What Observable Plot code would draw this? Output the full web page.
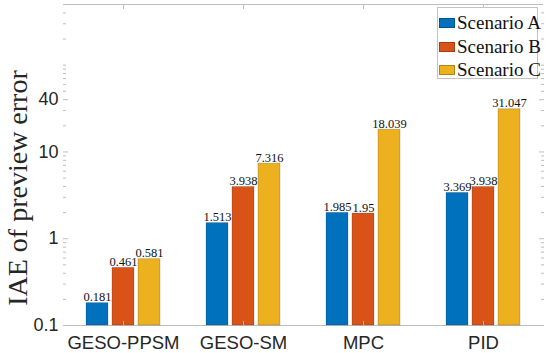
<!DOCTYPE html>
<html><head><meta charset="utf-8">
<script src="https://cdn.jsdelivr.net/npm/d3@7"></script>
<script src="https://cdn.jsdelivr.net/npm/@observablehq/plot@0.6"></script>
<style>
html,body{margin:0;padding:0;background:#fff;}
#wrap{position:relative;width:550px;height:353px;overflow:hidden;}
#ylab{position:absolute;left:18px;top:188px;transform:translate(-50%,-50%) rotate(-90deg);white-space:nowrap;
  font-family:"Liberation Serif","Times New Roman",serif;font-size:28px;color:#262626;}
#legend{position:absolute;left:437px;top:7px;width:101px;height:72px;border:1px solid #c4c4c4;background:#fff;box-sizing:border-box;
  font-family:"Liberation Serif","Times New Roman",serif;font-size:19px;color:#111;}
.item{position:absolute;left:1px;height:22px;display:flex;align-items:center;white-space:nowrap;}
.sw{width:16px;height:10px;margin-right:2px;box-sizing:border-box;border:1px solid rgba(0,0,0,0.25);}
</style></head><body><div id="wrap"></div>
<script>
const groups = ["GESO-PPSM", "GESO-SM", "MPC", "PID"];
const scenarios = ["Scenario A", "Scenario B", "Scenario C"];
const colors = ["#0072BD", "#D95319", "#EDB120"];
const valuesA = [0.181, 1.513, 1.985, 3.369];
const valuesB = [0.461, 3.938, 1.95, 3.938];
const valuesC = [0.581, 7.316, 18.039, 31.047];
const yTicks = [0.1, 1, 10, 40];
const yMinorTicks = [0.2,0.3,0.4,0.5,0.6,0.7,0.8,0.9,2,3,4,5,6,7,8,9,20,30,50,60,70,80,90,100,200,300,400];
const yDomain = [0.1, 500];
const yLabel = "IAE of preview error";

const series = [valuesA, valuesB, valuesC];
const data = [];
groups.forEach((g, i) => scenarios.forEach((s, j) => data.push({group: g, scenario: s, value: series[j][i]})));

const axisColor = "#bdbdbd";
const sans = "'Liberation Sans', Arial, sans-serif";
const serif = "'Liberation Serif', 'Times New Roman', serif";

const chart = Plot.plot({
  width: 550, height: 353,
  marginLeft: 62, marginRight: 6, marginTop: 4, marginBottom: 28,
  style: {background: "#fff", color: "#262626", fontFamily: sans},
  fx: {domain: groups, padding: 0, label: null},
  x: {domain: scenarios, paddingInner: 0.17, paddingOuter: 0.858, axis: null},
  y: {type: "log", domain: yDomain, label: null},
  color: {domain: scenarios, range: colors},
  marks: [
    Plot.ruleY(yDomain, {stroke: axisColor}),
    Plot.barY(data, {fx: "group", x: "scenario", y1: yDomain[0], y2: "value", fill: "scenario",
      stroke: "#000", strokeOpacity: 0.22, strokeWidth: 0.8}),
    Plot.text(data, {fx: "group", x: "scenario", y: "value", text: d => String(d.value),
      lineAnchor: "bottom", dy: -2, fontSize: 12.5, fontFamily: serif, fill: "#111"}),
    Plot.axisY({anchor: "left", ticks: yMinorTicks, tickSize: -3, text: null, stroke: axisColor, label: null, line: true}),
    Plot.axisY({anchor: "left", ticks: yTicks, tickSize: -5, text: null, stroke: axisColor, label: null}),
    Plot.axisY({anchor: "left", ticks: yTicks, tickSize: 0, tickPadding: 5, text: d => String(d), fontSize: 18, fontFamily: sans, fill: "#262626", label: null}),
    Plot.axisY({anchor: "right", ticks: yMinorTicks, tickSize: -3, text: null, stroke: axisColor, label: null, line: true}),
    Plot.axisY({anchor: "right", ticks: yTicks, tickSize: -5, text: null, stroke: axisColor, label: null}),
    Plot.axisFx({anchor: "bottom", tickSize: -4, text: null, stroke: axisColor, label: null}),
    Plot.axisFx({anchor: "top", tickSize: -4, text: null, stroke: axisColor, label: null}),
    Plot.axisFx({anchor: "bottom", tickSize: 0, tickPadding: 10, lineAnchor: "top", fontSize: 18.5, fontFamily: sans, fill: "#262626", label: null})
  ]
});

const wrap = document.getElementById("wrap");
wrap.appendChild(chart);

const yl = document.createElement("div");
yl.id = "ylab"; yl.textContent = yLabel; wrap.appendChild(yl);

const lg = document.createElement("div");
lg.id = "legend";
scenarios.forEach((s, j) => {
  const it = document.createElement("div");
  it.className = "item"; it.style.top = (4 + j * 23.5) + "px";
  const sw = document.createElement("span"); sw.className = "sw"; sw.style.background = colors[j];
  const tx = document.createElement("span"); tx.textContent = s;
  it.appendChild(sw); it.appendChild(tx); lg.appendChild(it);
});
wrap.appendChild(lg);
</script>
</body></html>
